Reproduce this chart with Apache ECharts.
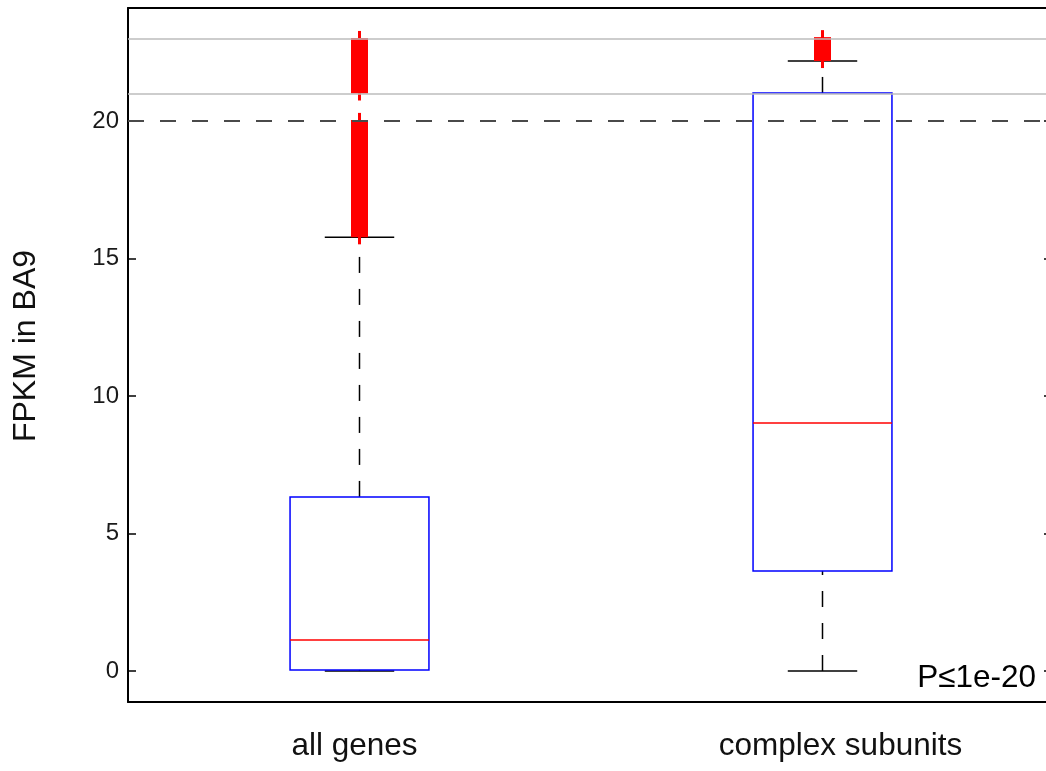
<!DOCTYPE html>
<html>
<head>
<meta charset="utf-8">
<script src="https://cdn.jsdelivr.net/npm/echarts@6/dist/echarts.min.js"></script>
<style>
html,body{margin:0;padding:0;background:#fff;}
#chart{width:1046px;height:771px;}
</style>
</head>
<body>
<div id="chart"></div>
<script>
// ---- data ----
const categories = ['all genes', 'complex subunits'];
const positions = [1, 2];
const whiskerLow = [0, 0];
const q1 = [0.04, 3.64];
const medians = [1.13, 9.02];
const q3 = [6.33, 21.02];
const whiskerHigh = [15.77, 22.18];
// dense outlier clusters (drawn as stacked '+' markers)
const outlierPos = [1, 1, 2];
const outlierLow = [15.77, 21.0, 22.18];
const outlierHigh = [20.04, 23.02, 23.05];
const grayLines = [21, 23];
const thresholdLine = 20;
const yTicks = [0, 5, 10, 15, 20];
const xTicks = [1, 2];
const yName = 'FPKM in BA9';
const pText = 'P≤1e-20';

const FONT = "'Liberation Sans', Arial, Helvetica, sans-serif";

const boxData = positions.map((p, i) => [p, whiskerLow[i], q1[i], medians[i], q3[i], whiskerHigh[i]]);
const outlierData = outlierPos.map((p, i) => [p, outlierLow[i], outlierHigh[i]]);

const chart = echarts.init(document.getElementById('chart'));

const yMin = -1.127, yMax = 24.109;
const BIG = 31.5;

const option = {
  animation: false,
  backgroundColor: '#ffffff',
  grid: { left: 128, top: 8, width: 926, height: 694, outerBoundsMode: 'none', containLabel: false },
  xAxis: [{
    type: 'value', min: 0.5, max: 2.5, position: 'bottom',
    axisLine: { show: true, onZero: false, lineStyle: { color: '#000', width: 2 } },
    axisTick: { show: false },
    splitLine: { show: false },
    axisLabel: {
      customValues: xTicks, margin: 28,
      fontSize: BIG, fontFamily: FONT, color: '#111',
      formatter: v => {
        const i = Math.round(v) - 1;
        return i === 0 ? '{a|' + categories[i] + '}' : '{b|' + categories[i] + '}';
      },
      rich: {
        a: { fontSize: BIG, fontFamily: FONT, color: '#111', padding: [0, 10, 0, 0] },
        b: { fontSize: BIG, fontFamily: FONT, color: '#111', padding: [0, 0, 0, 36] }
      }
    }
  }, {
    type: 'value', min: 0.5, max: 2.5, position: 'top',
    axisLine: { show: true, onZero: false, lineStyle: { color: '#000', width: 2 } },
    axisTick: { show: false }, axisLabel: { show: false }, splitLine: { show: false }
  }],
  yAxis: [{
    type: 'value', min: yMin, max: yMax, position: 'left',
    name: yName, nameLocation: 'middle', nameRotate: 90, nameGap: 86,
    nameTextStyle: { fontSize: 32, fontFamily: FONT, color: '#111', padding: [0, 0, 0, 18] },
    axisLine: { show: true, onZero: false, lineStyle: { color: '#000', width: 2 } },
    axisTick: { show: true, inside: true, length: 8, customValues: yTicks, lineStyle: { color: '#000', width: 1.5 } },
    axisLabel: { customValues: yTicks, margin: 9, fontSize: 24, fontFamily: FONT, color: '#1a1a1a' },
    splitLine: { show: false }
  }, {
    type: 'value', min: yMin, max: yMax, position: 'right',
    axisLine: { show: true, onZero: false, lineStyle: { color: '#000', width: 2 } },
    axisTick: { show: true, inside: true, length: 10, customValues: yTicks, lineStyle: { color: '#000', width: 1.5 } },
    axisLabel: { show: false },
    splitLine: { show: false }
  }],
  series: [{
    type: 'line', data: [], z: 1, silent: true,
    markLine: {
      silent: true, symbol: 'none', animation: false,
      label: { show: false },
      data: [
        ...grayLines.map(v => ({ yAxis: v, lineStyle: { color: '#bdbdbd', width: 1.5, type: 'solid' } })),
        { yAxis: thresholdLine, lineStyle: { color: '#4a4a4a', width: 2, type: [16, 16] } }
      ]
    }
  }, {
    type: 'custom', z: 3, silent: true,
    data: boxData,
    encode: { x: 0, y: [1, 2, 3, 4, 5] },
    renderItem: (params, api) => {
      const x = api.value(0);
      const pLow = api.coord([x, api.value(1)]);
      const pQ1 = api.coord([x, api.value(2)]);
      const pMed = api.coord([x, api.value(3)]);
      const pQ3 = api.coord([x, api.value(4)]);
      const pHigh = api.coord([x, api.value(5)]);
      const hb = api.size([0.15, 0])[0];
      const hc = api.size([0.075, 0])[0];
      const cx = pQ1[0];
      const black = { stroke: '#000', lineWidth: 1.5 };
      return {
        type: 'group',
        children: [
          { type: 'line', shape: { x1: cx, y1: pLow[1], x2: cx, y2: pQ1[1] }, style: Object.assign({ lineDash: [16, 16] }, black) },
          { type: 'line', shape: { x1: cx, y1: pQ3[1], x2: cx, y2: pHigh[1] }, style: Object.assign({ lineDash: [16, 16] }, black) },
          { type: 'line', shape: { x1: cx - hc, y1: pLow[1], x2: cx + hc, y2: pLow[1] }, style: black },
          { type: 'line', shape: { x1: cx - hc, y1: pHigh[1], x2: cx + hc, y2: pHigh[1] }, style: black },
          { type: 'rect', shape: { x: cx - hb, y: pQ3[1], width: 2 * hb, height: pQ1[1] - pQ3[1] }, style: { fill: 'none', stroke: '#0000ff', lineWidth: 1.5 } },
          { type: 'line', shape: { x1: cx - hb, y1: pMed[1], x2: cx + hb, y2: pMed[1] }, style: { stroke: '#ff0000', lineWidth: 1.5 } }
        ]
      };
    }
  }, {
    type: 'custom', z: 4, silent: true,
    data: outlierData,
    encode: { x: 0, y: [1, 2] },
    renderItem: (params, api) => {
      const x = api.value(0);
      const pL = api.coord([x, api.value(1)]);
      const pH = api.coord([x, api.value(2)]);
      const cx = pL[0];
      const mw = 17, tip = 7;
      return {
        type: 'group',
        children: [
          { type: 'rect', shape: { x: cx - mw / 2, y: pH[1], width: mw, height: pL[1] - pH[1] }, style: { fill: '#ff0000' } },
          { type: 'line', shape: { x1: cx, y1: pH[1] - tip, x2: cx, y2: pL[1] + tip }, style: { stroke: '#ff0000', lineWidth: 3 } }
        ]
      };
    }
  }],
  graphic: [{
    type: 'text', x: 1036, y: 678, z: 10,
    style: { text: pText, font: BIG + 'px ' + FONT, fill: '#000', align: 'right', verticalAlign: 'middle' }
  }]
};

chart.setOption(option);
</script>
</body>
</html>
